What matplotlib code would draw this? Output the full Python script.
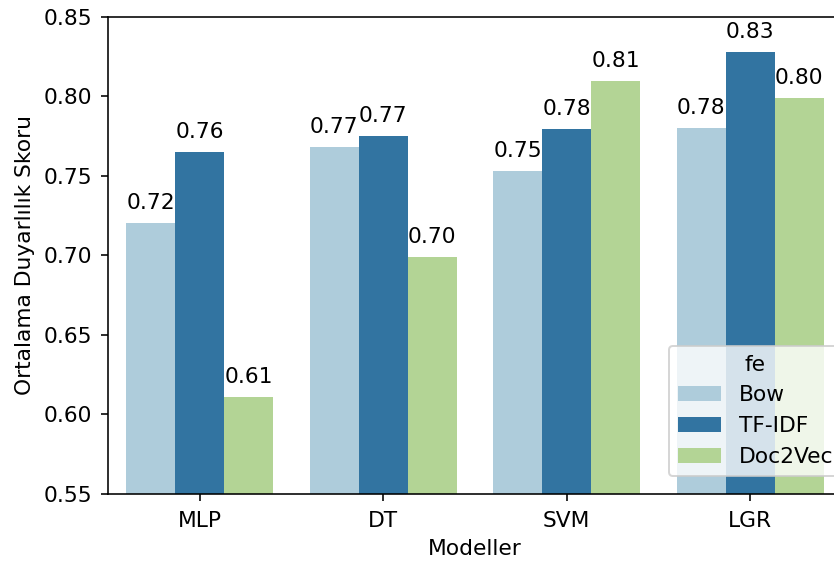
import numpy as np
import pandas as pd
import matplotlib
matplotlib.use("Agg")
import matplotlib.pyplot as plt
import seaborn as sns

plt.rcParams["font.size"] = 10.9
plt.rcParams["xtick.major.pad"] = 5
plt.rcParams["ytick.major.pad"] = 4.5

models = ["MLP", "DT", "SVM", "LGR"]
features = ["Bow", "TF-IDF", "Doc2Vec"]
bow = [0.7203, 0.7684, 0.7533, 0.7800]
tfidf = [0.7649, 0.7749, 0.7796, 0.8278]
doc2vec = [0.6108, 0.6990, 0.8100, 0.7989]

df = pd.DataFrame({
    "Modeller": models * 3,
    "fe": [f for f in features for _ in models],
    "score": bow + tfidf + doc2vec,
})

dpi = 144
fig = plt.figure(figsize=(834 / dpi, 562 / dpi), dpi=dpi)
ax = fig.add_axes([0.1295, 0.121, 0.8801, 0.8488])

sns.barplot(data=df, x="Modeller", y="score", hue="fe", order=models,
            hue_order=features, palette="Paired", ax=ax, errorbar=None)

for container in ax.containers:
    for bar in container:
        h = bar.get_height()
        ax.annotate(format(h, ".2f"),
                    (bar.get_x() + bar.get_width() / 2, h),
                    ha="center", va="center", xytext=(0, 10),
                    textcoords="offset points")

ax.set_ylim(0.55, 0.85)
ax.set_xlim(-0.5, 3.5)
yt = np.arange(0.55, 0.851, 0.05)
ax.set_yticks(yt, labels=[f"{v:.2f}" for v in yt])
ax.set_xlabel("Modeller")
ax.set_ylabel("Ortalama Duyarlılık Skoru")

ax.legend(title="fe", loc="lower left", bbox_to_anchor=(0.764, 0.0377),
          borderaxespad=0)

fig.savefig("out.png", dpi=dpi)
